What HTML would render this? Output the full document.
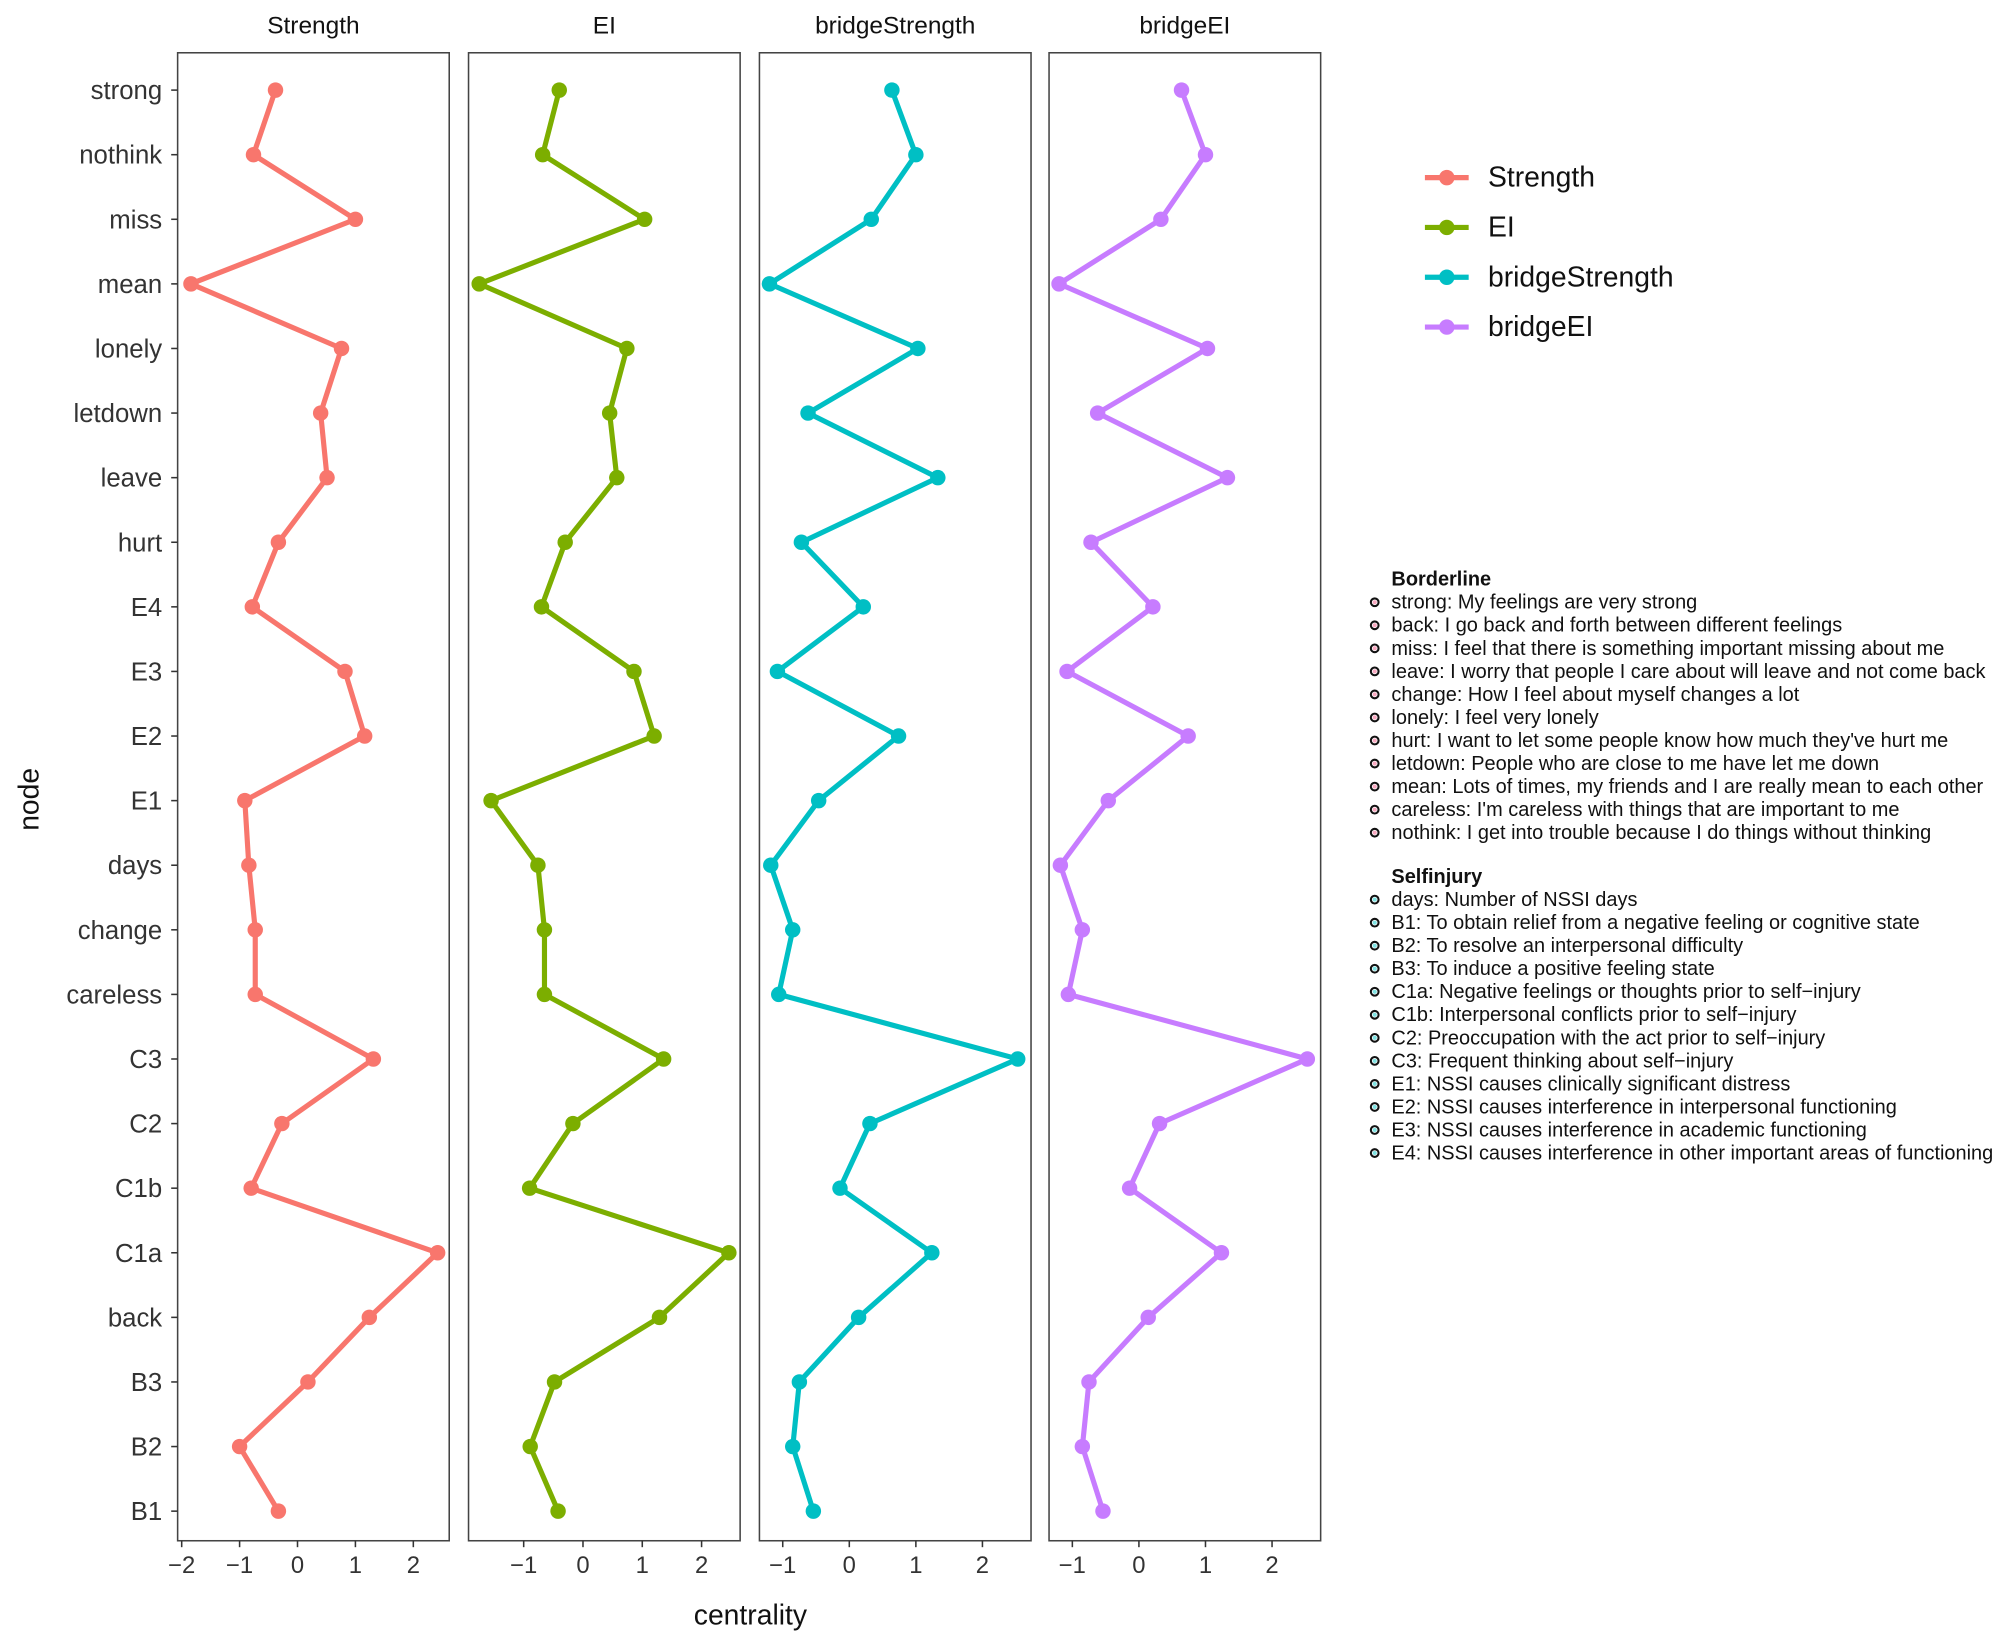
<!DOCTYPE html>
<html><head><meta charset="utf-8"><style>
html,body{margin:0;padding:0;background:#fff;}
svg{display:block;font-family:"Liberation Sans",Arial,sans-serif;}
</style></head><body>
<svg id="chart" width="2008" height="1636" viewBox="0 0 1560 1271" xmlns="http://www.w3.org/2000/svg">
<rect width="1560" height="1271" fill="#fff"/>
<g id="panels"></g>
<text x="0" y="0" transform="translate(30,621) rotate(-90)" text-anchor="middle" font-size="22" fill="#111">node</text>
<text x="583" y="1262" text-anchor="middle" font-size="22" fill="#111">centrality</text>
<g id="legend"></g>
<g id="notes" font-size="15.5" fill="#111"></g>
</svg>
<script>
const nodes = ["strong","nothink","miss","mean","lonely","letdown","leave","hurt","E4","E3","E2","E1","days","change","careless","C3","C2","C1b","C1a","back","B3","B2","B1"];
const seriesNames = ["Strength","EI","bridgeStrength","bridgeEI"];
const strengthVals = [-0.38,-0.76,1.0,-1.84,0.76,0.4,0.51,-0.33,-0.78,0.82,1.16,-0.91,-0.84,-0.73,-0.73,1.31,-0.27,-0.8,2.42,1.24,0.18,-1.0,-0.33];
const eiVals = [-0.4,-0.68,1.04,-1.75,0.74,0.45,0.57,-0.3,-0.7,0.86,1.2,-1.55,-0.76,-0.65,-0.65,1.36,-0.17,-0.9,2.46,1.29,-0.48,-0.89,-0.42];
const bridgeStrengthVals = [0.64,1.0,0.33,-1.2,1.03,-0.62,1.33,-0.72,0.21,-1.08,0.74,-0.46,-1.18,-0.85,-1.06,2.53,0.31,-0.14,1.24,0.14,-0.75,-0.85,-0.54];
const bridgeEIVals = [0.64,1.0,0.33,-1.2,1.03,-0.62,1.33,-0.72,0.21,-1.08,0.74,-0.46,-1.18,-0.85,-1.06,2.53,0.31,-0.14,1.24,0.14,-0.75,-0.85,-0.54];
const xTicksStrength = [-2,-1,0,1,2];
const xTicksOther = [-1,0,1,2];
const colors = ["#F8766D","#7CAE00","#00BFC4","#C77CFF"];
const borderlineNotes = ["strong: My feelings are very strong","back: I go back and forth between different feelings","miss: I feel that there is something important missing about me","leave: I worry that people I care about will leave and not come back","change: How I feel about myself changes a lot","lonely: I feel very lonely","hurt: I want to let some people know how much they've hurt me","letdown: People who are close to me have let me down","mean: Lots of times, my friends and I are really mean to each other","careless: I'm careless with things that are important to me","nothink: I get into trouble because I do things without thinking"];
const selfinjuryNotes = ["days: Number of NSSI days","B1: To obtain relief from a negative feeling or cognitive state","B2: To resolve an interpersonal difficulty","B3: To induce a positive feeling state","C1a: Negative feelings or thoughts prior to self\u2212injury","C1b: Interpersonal conflicts prior to self\u2212injury","C2: Preoccupation with the act prior to self\u2212injury","C3: Frequent thinking about self\u2212injury","E1: NSSI causes clinically significant distress","E2: NSSI causes interference in interpersonal functioning","E3: NSSI causes interference in academic functioning","E4: NSSI causes interference in other important areas of functioning"];

const NS="http://www.w3.org/2000/svg";
function mk(tag,attrs,parent){const e=document.createElementNS(NS,tag);for(const k in attrs)e.setAttribute(k,attrs[k]);parent.appendChild(e);return e;}
const allVals=[strengthVals,eiVals,bridgeStrengthVals,bridgeEIVals];
const panelLeft=[138,364,590,815], panelW=211, plotTop=41, plotBottom=1197;
const domains=[[-2.07,2.62],[-1.93,2.65],[-1.35,2.73],[-1.35,2.73]];
const yTop=70, yBot=1174;
function yPos(i){return yTop+i*(yBot-yTop)/(nodes.length-1);}
const panels=document.getElementById('panels');
seriesNames.forEach((name,p)=>{
  const g=mk('g',{},panels);
  
  
  const L=panelLeft[p],d0=domains[p][0],d1=domains[p][1];
  const xs=v=>L+(v-d0)/(d1-d0)*panelW;
  const t=mk('text',{x:L+panelW/2,y:26,'text-anchor':'middle','font-size':19,fill:'#111'},g);
  t.textContent=name;
  
  
  const r=mk('rect',{x:L,y:plotTop,width:panelW,height:plotBottom-plotTop,fill:'none',stroke:'#444','stroke-width':1.2},g);
  
  
  const ticks=p===0?xTicksStrength:xTicksOther;
  ticks.forEach(tv=>{
    const x=xs(tv);
    mk('line',{x1:x,y1:plotBottom,x2:x,y2:plotBottom+5,stroke:'#333','stroke-width':1.2},g);
    const tl=mk('text',{x:x,y:plotBottom+25,'text-anchor':'middle','font-size':18.5,fill:'#333'},g);
    tl.textContent=tv<0?'\u2212'+Math.abs(tv):String(tv);
    
    
  });
  if(p===0){
    nodes.forEach((n,i)=>{
      const y=yPos(i);
      mk('line',{x1:L-5,y1:y,x2:L,y2:y,stroke:'#333','stroke-width':1.2},g);
      const nl=mk('text',{x:L-12,y:y+7,'text-anchor':'end','font-size':20,fill:'#333'},g);
      nl.textContent=n;
      
      
    });
  }
  const vals=allVals[p];
  const pts=vals.map((v,i)=>xs(v).toFixed(1)+','+yPos(i).toFixed(1)).join(' ');
  const pl=mk('polyline',{points:pts,fill:'none',stroke:colors[p],'stroke-width':4,'stroke-linejoin':'round'},g);
  
  
  vals.forEach((v,i)=>{
    const c=mk('circle',{cx:xs(v),cy:yPos(i),r:6,fill:colors[p]},g);
    
    
  });
});
const legend=document.getElementById('legend');
seriesNames.forEach((name,i)=>{
  const y=138+i*38.7;
  const g=mk('g',{},legend);
  
  
  mk('line',{x1:1107,y1:y,x2:1141,y2:y,stroke:colors[i],'stroke-width':4},g);
  mk('circle',{cx:1124,cy:y,r:6,fill:colors[i]},g);
  const t=mk('text',{x:1156,y:y+7,'font-size':22,fill:'#111'},g);
  t.textContent=name;
});
const notes=document.getElementById('notes');
function block(title,items,y0,col){
  const t=mk('text',{x:1081,y:y0+5,'font-weight':'bold'},notes);
  t.textContent=title;
  
  
  items.forEach((s,i)=>{
    const y=y0+17.9*(i+1);
    mk('circle',{cx:1068,cy:y,r:3,fill:'none',stroke:'#111','stroke-width':1.6},notes);
    mk('circle',{cx:1068,cy:y,r:1.6,fill:col},notes);
    const tx=mk('text',{x:1081,y:y+5},notes);
    tx.textContent=s;
    
    
  });
}
block('Borderline',borderlineNotes,450,'#f9a8c0');
block('Selfinjury',selfinjuryNotes,681,'#7fe3e3');
</script>
</body></html>
